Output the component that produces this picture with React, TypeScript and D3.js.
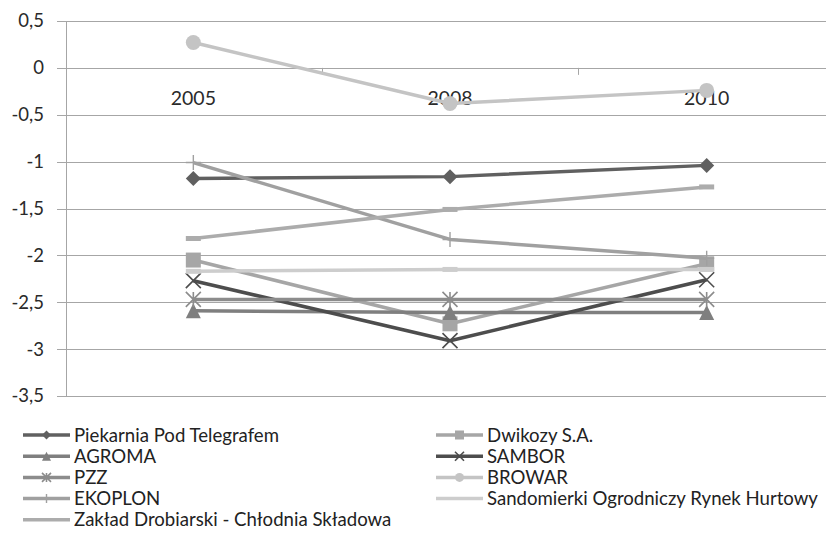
import React, { useEffect, useRef } from "react";
import * as d3 from "d3";

// categories
const years = ["2005", "2008", "2010"];

// series values
const piekarnia = [-1.18, -1.16, -1.04];
const dwikozy = [-2.05, -2.73, -2.09];
const agroma = [-2.59, -2.61, -2.61];
const sambor = [-2.27, -2.91, -2.26];
const pzz = [-2.47, -2.47, -2.47];
const browar = [0.27, -0.38, -0.24];
const ekoplon = [-1.01, -1.83, -2.03];
const sandomierki = [-2.17, -2.15, -2.15];
const zaklad = [-1.82, -1.51, -1.27];

const yTicks = [0.5, 0, -0.5, -1, -1.5, -2, -2.5, -3, -3.5];

type Marker = "diamond" | "square" | "triangle" | "x" | "asterisk" | "circle" | "plus" | "dash" | "none";

const series: { name: string; values: number[]; color: string; marker: Marker }[] = [
  { name: "Piekarnia Pod Telegrafem", values: piekarnia, color: "#606060", marker: "diamond" },
  { name: "Dwikozy S.A.", values: dwikozy, color: "#a6a6a6", marker: "square" },
  { name: "AGROMA", values: agroma, color: "#7f7f7f", marker: "triangle" },
  { name: "SAMBOR", values: sambor, color: "#4d4d4d", marker: "x" },
  { name: "PZZ", values: pzz, color: "#8c8c8c", marker: "asterisk" },
  { name: "BROWAR", values: browar, color: "#c4c4c4", marker: "circle" },
  { name: "EKOPLON", values: ekoplon, color: "#a0a0a0", marker: "plus" },
  { name: "Sandomierki Ogrodniczy Rynek Hurtowy", values: sandomierki, color: "#cdcdcd", marker: "dash" },
  { name: "Zakład Drobiarski - Chłodnia Składowa", values: zaklad, color: "#acacac", marker: "dash" },
];

const FONT = "Lato, 'Open Sans', sans-serif";

function drawMarker(
  g: d3.Selection<SVGGElement, unknown, null, undefined>,
  kind: Marker,
  cx: number,
  cy: number,
  s: number,
  color: string
) {
  const h = s / 2;
  switch (kind) {
    case "diamond":
      g.append("path")
        .attr("d", `M${cx},${cy - h}L${cx + h},${cy}L${cx},${cy + h}L${cx - h},${cy}Z`)
        .attr("fill", color);
      break;
    case "square":
      g.append("rect")
        .attr("x", cx - h)
        .attr("y", cy - h)
        .attr("width", s)
        .attr("height", s)
        .attr("fill", color);
      break;
    case "triangle":
      g.append("path")
        .attr("d", `M${cx},${cy - h}L${cx + h},${cy + h}L${cx - h},${cy + h}Z`)
        .attr("fill", color);
      break;
    case "circle":
      g.append("circle").attr("cx", cx).attr("cy", cy).attr("r", h).attr("fill", color);
      break;
    case "x":
      g.append("path")
        .attr("d", `M${cx - h},${cy - h}L${cx + h},${cy + h}M${cx + h},${cy - h}L${cx - h},${cy + h}`)
        .attr("stroke", color)
        .attr("stroke-width", 1.6)
        .attr("fill", "none");
      break;
    case "asterisk":
      g.append("path")
        .attr(
          "d",
          `M${cx - h},${cy - h}L${cx + h},${cy + h}M${cx + h},${cy - h}L${cx - h},${cy + h}M${cx},${cy - h}L${cx},${cy + h}`
        )
        .attr("stroke", color)
        .attr("stroke-width", 1.6)
        .attr("fill", "none");
      break;
    case "plus":
      g.append("path")
        .attr("d", `M${cx},${cy - h}L${cx},${cy + h}M${cx - h},${cy}L${cx + h},${cy}`)
        .attr("stroke", color)
        .attr("stroke-width", 1.4)
        .attr("fill", "none");
      break;
    case "dash":
      g.append("rect")
        .attr("x", cx - h)
        .attr("y", cy - 2.5)
        .attr("width", s)
        .attr("height", 5)
        .attr("fill", color);
      break;
    default:
      break;
  }
}

const App = () => {
  const ref = useRef<SVGSVGElement | null>(null);

  useEffect(() => {
    const width = 826;
    const svg = d3.select(ref.current);
    svg.selectAll("*").remove();

    const left = 65;
    const right = 835;
    const top = 21;
    const bottom = 396;

    const x = d3.scaleBand<string>().domain(years).range([left, right]);
    const cx = (d: string) => (x(d) ?? 0) + x.bandwidth() / 2;
    const y = d3.scaleLinear().domain([-3.5, 0.5]).range([bottom, top]);

    const root = svg.append("g") as d3.Selection<SVGGElement, unknown, null, undefined>;

    // gridlines
    root
      .selectAll("line.grid")
      .data(yTicks)
      .enter()
      .append("line")
      .attr("x1", left - 8)
      .attr("x2", width)
      .attr("y1", (d) => Math.round(y(d)) + 0.5)
      .attr("y2", (d) => Math.round(y(d)) + 0.5)
      .attr("stroke", "#a6a6a6")
      .attr("stroke-width", 1);

    // y axis line
    root
      .append("line")
      .attr("x1", left + 1.5)
      .attr("x2", left + 1.5)
      .attr("y1", y(0.5))
      .attr("y2", y(-3.5))
      .attr("stroke", "#a6a6a6");

    // y labels
    root
      .selectAll("text.ylab")
      .data(yTicks)
      .enter()
      .append("text")
      .attr("x", 44)
      .attr("y", (d) => y(d))
      .attr("dy", "0.35em")
      .attr("text-anchor", "end")
      .attr("font-family", FONT)
      .attr("font-size", 18.5)
      .attr("fill", "#2a2a2a")
      .text((d) => d3.format(".1~f")(d).replace(".", ",").replace("−", "-"));

    // category axis ticks at y = 0
    root
      .selectAll("line.xtick")
      .data(years.slice(1))
      .enter()
      .append("line")
      .attr("x1", (d) => Math.round(x(d) ?? 0) + 0.5)
      .attr("x2", (d) => Math.round(x(d) ?? 0) + 0.5)
      .attr("y1", y(0))
      .attr("y2", y(0) + 7)
      .attr("stroke", "#a6a6a6");

    // category labels
    root
      .selectAll("text.xlab")
      .data(years)
      .enter()
      .append("text")
      .attr("x", cx)
      .attr("y", y(0) + 30)
      .attr("dy", "0.35em")
      .attr("text-anchor", "middle")
      .attr("font-family", FONT)
      .attr("font-size", 19.5)
      .attr("fill", "#2a2a2a")
      .text((d) => d);

    // lines and markers
    const line = d3
      .line<number>()
      .x((_, i) => cx(years[i]))
      .y((d) => y(d));

    series.forEach((s) => {
      const g = root.append("g") as d3.Selection<SVGGElement, unknown, null, undefined>;
      g.append("path")
        .datum(s.values)
        .attr("d", line)
        .attr("fill", "none")
        .attr("stroke", s.color)
        .attr("stroke-width", 3.5)
        .attr("stroke-linejoin", "round");
      s.values.forEach((v, i) => {
        drawMarker(g, s.marker, cx(years[i]), y(v), 15, s.color);
      });
    });

    // legend
    const legTop = 435;
    const rowH = 21.2;
    series.forEach((s, i) => {
      const col = i % 2;
      const row = Math.floor(i / 2);
      const lx = col === 0 ? 23 : 436;
      const ly = legTop + row * rowH;
      const g = root.append("g") as d3.Selection<SVGGElement, unknown, null, undefined>;
      g.append("line")
        .attr("x1", lx)
        .attr("x2", lx + 47)
        .attr("y1", ly)
        .attr("y2", ly)
        .attr("stroke", s.color)
        .attr("stroke-width", 3.5);
      if (s.marker !== "dash") drawMarker(g, s.marker, lx + 23.5, ly, 9, s.color);
      g.append("text")
        .attr("x", lx + 51)
        .attr("y", ly)
        .attr("dy", "0.35em")
        .attr("font-family", FONT)
        .attr("font-size", 18.6)
        .attr("fill", "#222")
        .text(s.name);
    });
  }, []);

  return (
    <svg
      ref={ref}
      width={826}
      height={539}
      style={{ position: "absolute", left: 0, top: 0, background: "#fff" }}
    />
  );
};

export default App;
